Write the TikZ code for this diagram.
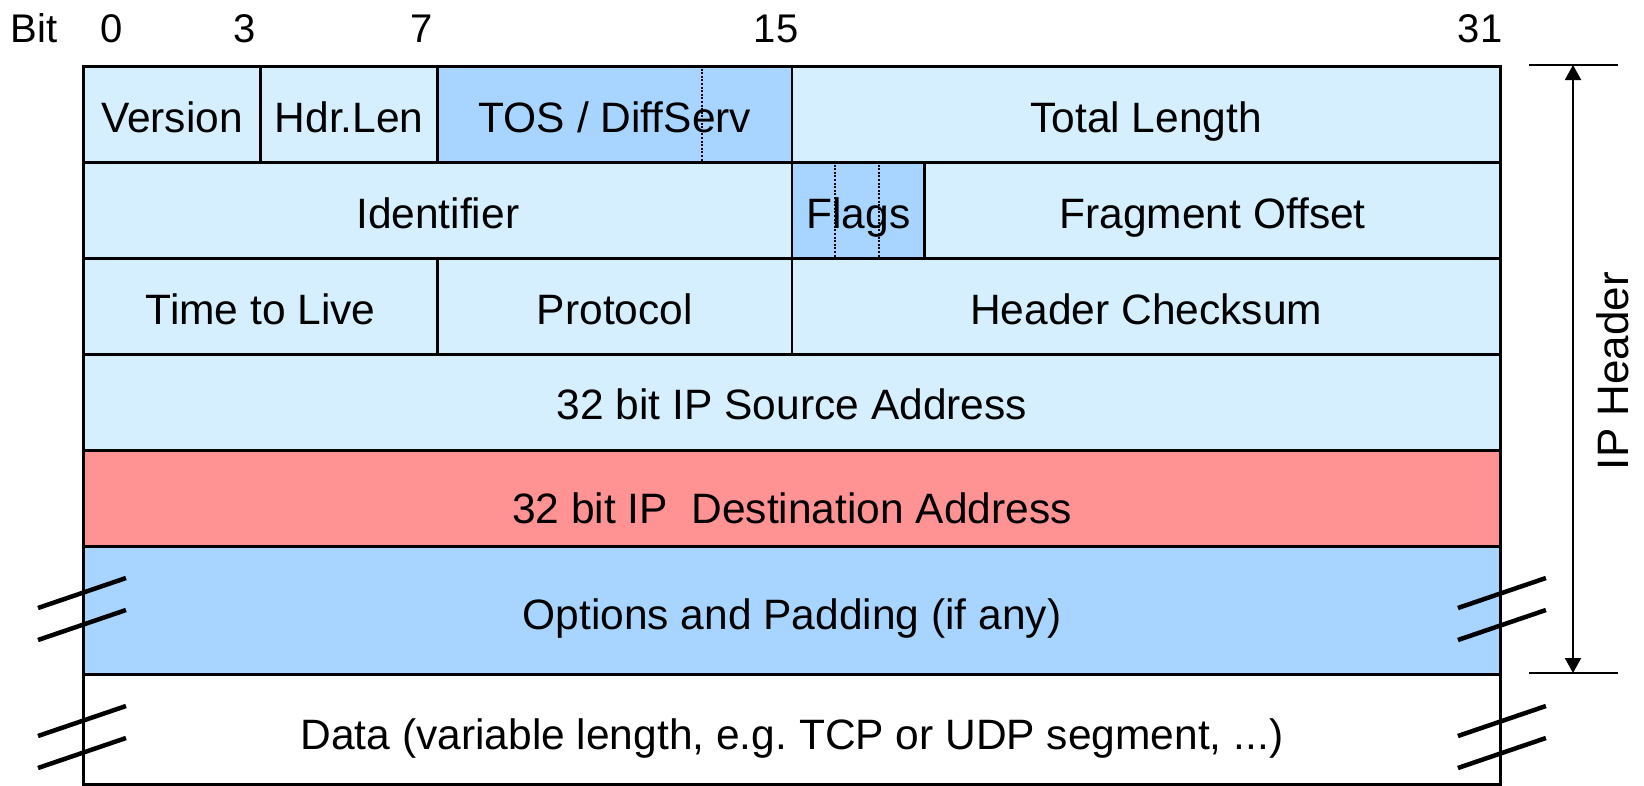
\documentclass[tikz,border=0pt]{standalone}
\usepackage{fontspec}
\setmainfont{Liberation Sans}
\usetikzlibrary{arrows.meta}

\definecolor{fieldblue}{RGB}{213,239,255}
\definecolor{markblue}{RGB}{168,213,255}
\definecolor{destred}{RGB}{255,146,146}

\tikzset{
  cell/.style={draw=black, line width=2.9pt, inner sep=0pt, anchor=north west,
    font=\fontsize{42.5}{50}\selectfont\frenchspacing, text height=36pt, text depth=0pt},
  bitlabel/.style={anchor=base, inner sep=0pt, font=\fontsize{40}{48}\selectfont},
  subbit/.style={line width=2.2pt, dash pattern=on 2pt off 1.6pt},
  breakmark/.style={line width=4.5pt, line cap=butt},
  measure/.style={line width=2.4pt},
  dimarrow/.style={line width=2pt, {Triangle[length=15pt,width=16pt]}-{Triangle[length=15pt,width=16pt]}}
}

% one header field: name, extra options, left, top, right, bottom, text
\newcommand\ipfield[7]{%
  \node[cell, #2, minimum width={(#5-#3)*1pt}, minimum height={(#6-#4)*1pt}] (#1) at (#3,#4) {#7};}

\begin{document}
\begin{tikzpicture}[x=1pt, y=-1pt]
\useasboundingbox (0,0) rectangle (1644,785);

% bit numbers above the header
\node[bitlabel] (bitword) at (34,42) {Bit};
\node[bitlabel] (bit0)  at (112,42) {0};
\node[bitlabel] (bit3)  at (245,42) {3};
\node[bitlabel] (bit7)  at (422,42) {7};
\node[bitlabel] (bit15) at (776,42) {15};
\node[bitlabel] (bit31) at (1480,42) {31};

% row 1
\ipfield{version}{fill=fieldblue}{82}{65}{259.125}{161}{Version}
\ipfield{hdrlen}{fill=fieldblue}{259.125}{65}{436.25}{161}{Hdr.Len}
\ipfield{tos}{fill=markblue}{436.25}{65}{790.5}{161}{TOS / DiffServ}
\ipfield{totlen}{fill=fieldblue}{790.5}{65}{1499}{161}{Total Length}
% row 2
\ipfield{ident}{fill=fieldblue}{82}{161}{790.5}{257}{Identifier}
\ipfield{flags}{fill=markblue}{790.5}{161}{923.34}{257}{Flags}
\ipfield{fragoff}{fill=fieldblue}{923.34}{161}{1499}{257}{Fragment Offset}
% row 3
\ipfield{ttl}{fill=fieldblue}{82}{257}{436.25}{353}{Time to Live}
\ipfield{proto}{fill=fieldblue}{436.25}{257}{790.5}{353}{Protocol}
\ipfield{cksum}{fill=fieldblue}{790.5}{257}{1499}{353}{Header Checksum}
% addresses
\ipfield{srcaddr}{fill=fieldblue, text height=34pt}{82}{353}{1499}{449}{32 bit IP Source Address}
\ipfield{dstaddr}{fill=destred, text height=51pt}{82}{449}{1499}{545}{32 bit IP\ \ Destination Address}
% options and payload
\ipfield{opts}{fill=markblue, text height=39pt}{82}{545}{1499}{673}{Options and Padding (if any)}
\ipfield{data}{fill=white, text height=40pt}{82}{673}{1499}{783}{Data (variable length, e.g. TCP or UDP segment, ...)}

% sub-field boundaries
\draw[subbit] ([xshift=265.69pt]tos.north west) -- ([xshift=265.69pt]tos.south west);
\draw[subbit] ([xshift=44.28pt]flags.north west) -- ([xshift=44.28pt]flags.south west);
\draw[subbit] ([xshift=88.56pt]flags.north west) -- ([xshift=88.56pt]flags.south west);

% break marks on both sides of the variable-length rows
\foreach \r in {opts,data}{
  \draw[breakmark] ([shift={(-44pt,-63pt)}]\r.north west) -- ([shift={(44pt,-33pt)}]\r.north west);
  \draw[breakmark] ([shift={(-44pt,-95pt)}]\r.north west) -- ([shift={(44pt,-65pt)}]\r.north west);
  \draw[breakmark] ([shift={(-44pt,-63pt)}]\r.north east) -- ([shift={(44pt,-33pt)}]\r.north east);
  \draw[breakmark] ([shift={(-44pt,-95pt)}]\r.north east) -- ([shift={(44pt,-65pt)}]\r.north east);
}

% extent of the IP header
\coordinate (topL) at (1529,65);
\coordinate (topR) at (1618,65);
\coordinate (botL) at (1529,673);
\coordinate (botR) at (1618,673);
\coordinate (hdrtop) at (1573,65);
\coordinate (hdrbot) at (1573,673);
\draw[measure] (topL) -- (topR);
\draw[measure] (botL) -- (botR);
\draw[dimarrow] (hdrtop) -- (hdrbot);
\node[rotate=90, inner sep=0pt, font=\fontsize{44}{52}\selectfont] (hdrlabel) at (1613,371) {IP Header};
\end{tikzpicture}
\end{document}
